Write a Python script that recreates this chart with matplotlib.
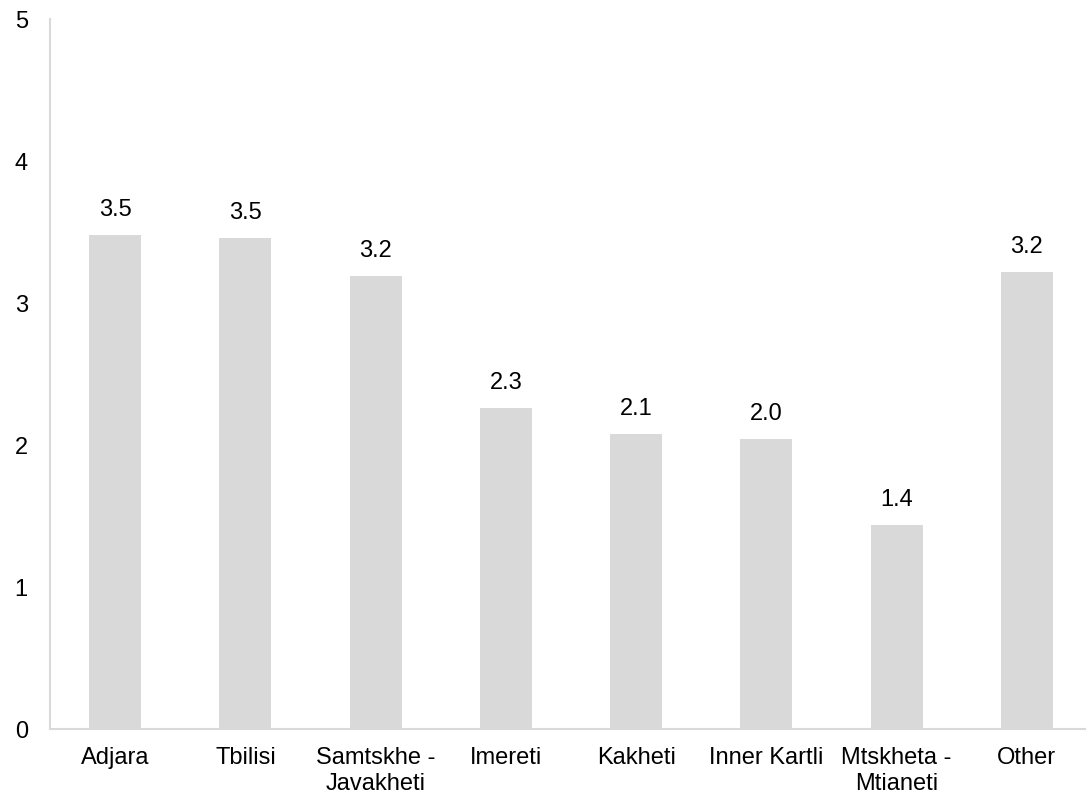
import matplotlib
matplotlib.use("Agg")
import matplotlib.pyplot as plt

plt.rcParams['font.family'] = ['Liberation Sans', 'DejaVu Sans']

regions = ["Adjara", "Tbilisi", "Samtskhe -\nJavakheti", "Imereti", "Kakheti",
           "Inner Kartli", "Mtskheta -\nMtianeti", "Other"]
values = [3.48, 3.46, 3.19, 2.26, 2.08, 2.04, 1.44, 3.22]

fig = plt.figure(figsize=(10.86, 7.96), dpi=100)
ax = fig.add_axes([50 / 1086, 1 - 729 / 796, 1042 / 1086, 710 / 796])

x = range(len(regions))
ax.bar(x, values, width=0.4, color='#d9d9d9')

for xi, v in zip(x, values):
    ax.annotate(f"{v:.1f}", (xi, v), xytext=(0, 10), textcoords='offset points',
                ha='center', va='bottom', fontsize=17, color='#000000')

ax.set_xlim(-0.5, 7.5)
ax.set_ylim(0, 5)
ax.set_yticks([0, 1, 2, 3, 4, 5])
ax.set_xticks(list(x))
ax.set_xticklabels(regions, linespacing=1.25)
ax.tick_params(axis='both', length=0, labelsize=17)
ax.tick_params(axis='x', pad=13)
ax.tick_params(axis='y', pad=16)

for side in ['top', 'right']:
    ax.spines[side].set_visible(False)
for side in ['left', 'bottom']:
    ax.spines[side].set_color('#d9d9d9')
    ax.spines[side].set_linewidth(1.5)

fig.savefig("out.png", dpi=100)
